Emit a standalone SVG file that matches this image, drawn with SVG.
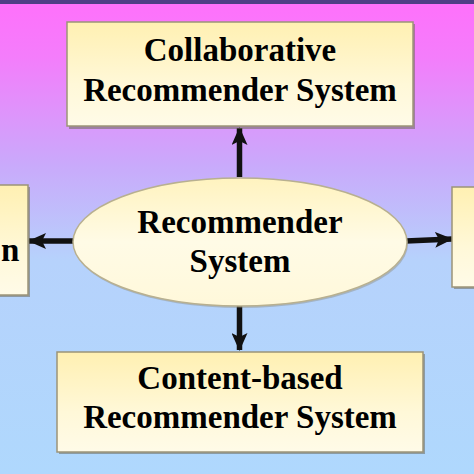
<svg xmlns="http://www.w3.org/2000/svg" width="474" height="474" viewBox="0 0 474 474">
<defs>
<linearGradient id="bg" x1="0" y1="0" x2="0" y2="1">
<stop offset="0" stop-color="#ff70fb"/>
<stop offset="0.12" stop-color="#f47dfb"/>
<stop offset="0.35" stop-color="#c9aafb"/>
<stop offset="0.55" stop-color="#b6d2fc"/>
<stop offset="1" stop-color="#afd8fd"/>
</linearGradient>
<linearGradient id="box" x1="0" y1="0" x2="0" y2="1">
<stop offset="0" stop-color="#fff0b2"/>
<stop offset="0.6" stop-color="#fff8d8"/>
<stop offset="1" stop-color="#fffbe8"/>
</linearGradient>
<linearGradient id="ell" x1="0" y1="0" x2="0" y2="1">
<stop offset="0" stop-color="#fff3bf"/>
<stop offset="0.5" stop-color="#fffbe6"/>
<stop offset="1" stop-color="#fff8da"/>
</linearGradient>
<marker id="ah" viewBox="0 0 18 16" refX="17" refY="8" markerWidth="18" markerHeight="16" markerUnits="userSpaceOnUse" orient="auto">
<path d="M0,0 L18,8 L0,16 L4,8 Z" fill="#111"/>
</marker>
<style>
.bx{fill:url(#box);stroke:#9c9478;stroke-width:1.5}
.sh{fill:#6e6a5a;opacity:0.55}
.t{font-family:"Liberation Serif","Times New Roman",serif;font-weight:bold;font-size:33px;fill:#000;text-anchor:middle}
.ar{stroke:#111;stroke-width:5.5;fill:none;marker-end:url(#ah)}
</style>
</defs>
<rect x="0" y="0" width="474" height="474" fill="url(#bg)"/>
<rect x="0" y="0" width="474" height="4" fill="#4f3f86"/>

<g id="connectors">
<line class="ar" x1="239.5" y1="177" x2="239.5" y2="128"/>
<line class="ar" x1="239.5" y1="305" x2="239.5" y2="350"/>
<line class="ar" x1="74" y1="241" x2="29" y2="241"/>
<line class="ar" x1="406" y1="241" x2="452" y2="239"/>
</g>

<g id="collaborative">
<rect class="sh" x="69" y="24" width="346" height="105"/>
<rect class="bx" x="67" y="22" width="346" height="104"/>
<text class="t" x="240" y="61">Collaborative</text>
<text class="t" x="240" y="101">Recommender System</text>
</g>

<g id="left">
<rect class="sh" x="-10" y="187" width="40" height="110"/>
<rect class="bx" x="-10" y="185" width="38" height="110"/>
<text class="t" x="1" y="261" style="text-anchor:start">n</text>
</g>

<g id="right">
<rect class="sh" x="454" y="189" width="30" height="100"/>
<rect class="bx" x="452" y="187" width="30" height="100"/>
</g>

<g id="center">
<ellipse cx="241" cy="244" rx="167" ry="64" fill="#8a8470" opacity="0.4"/>
<ellipse cx="240" cy="242" rx="167" ry="64" fill="url(#ell)" stroke="#b8b090" stroke-width="1.5"/>
<text class="t" x="240" y="233">Recommender</text>
<text class="t" x="240" y="272">System</text>
</g>

<g id="content">
<rect class="sh" x="59" y="354" width="366" height="100"/>
<rect class="bx" x="57" y="352" width="366" height="100"/>
<text class="t" x="240" y="389">Content-based</text>
<text class="t" x="240" y="428">Recommender System</text>
</g>
</svg>
